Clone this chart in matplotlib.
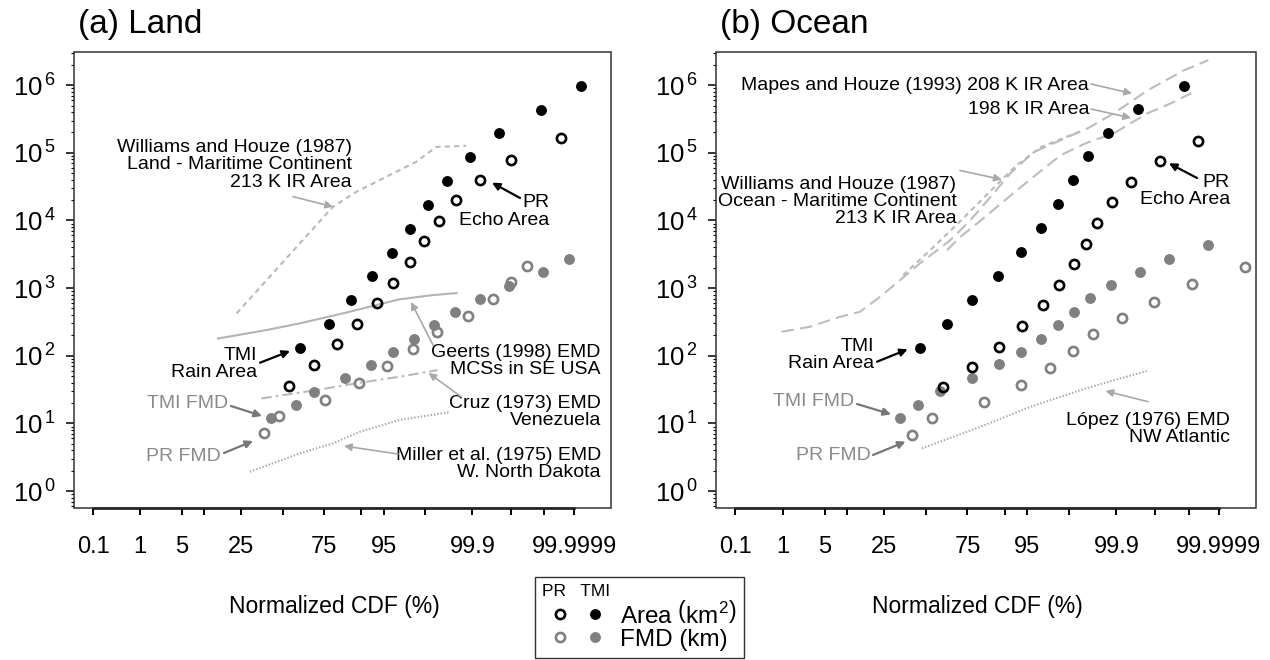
import numpy as np
import matplotlib
matplotlib.use("Agg")
import matplotlib.pyplot as plt
from matplotlib.patches import Rectangle
from matplotlib.ticker import FixedLocator, FixedFormatter, LogLocator, NullFormatter, NullLocator
from matplotlib.legend_handler import HandlerTuple
from statistics import NormalDist

plt.rcParams['font.family'] = ['Liberation Sans', 'DejaVu Sans']
plt.rcParams['mathtext.fontset'] = 'custom'
plt.rcParams['mathtext.rm'] = 'Liberation Sans'
plt.rcParams['mathtext.it'] = 'Liberation Sans:italic'
plt.rcParams['mathtext.bf'] = 'Liberation Sans:bold'

# ---- land: TRMM points (CDF in %, value in km2 or km)
land_tmi_area_cdf = [60.9, 77.3, 86.8, 92.8, 96.27, 98.1, 99.09, 99.63, 99.886, 99.979, 99.9987, 99.99994]
land_tmi_area = [131, 297, 665, 1500, 3300, 7600, 1.7e4, 3.85e4, 8.6e4, 1.93e5, 4.3e5, 9.8e5]
land_pr_area_cdf = [54.1, 69.2, 81.0, 88.7, 93.7, 96.43, 98.1, 98.95, 99.455, 99.767, 99.935, 99.990, 99.99972]
land_pr_area = [35.6, 72.8, 147, 294, 600, 1210, 2420, 4900, 9800, 1.98e4, 3.94e4, 7.9e4, 1.63e5]
land_tmi_fmd_cdf = [42.2, 58.5, 69.7, 84.6, 92.46, 96.43, 98.36, 99.32, 99.753, 99.933, 99.989, 99.99888, 99.99985]
land_tmi_fmd = [11.9, 18.7, 29.3, 46.3, 72, 114, 180, 284, 437, 687, 1081, 1706, 2680]
land_pr_fmd_cdf = [37.7, 47.5, 75.4, 89.2, 95.57, 98.28, 99.39, 99.870, 99.970, 99.990, 99.9966]
land_pr_fmd = [7.2, 12.7, 22.3, 39.8, 70.3, 124, 221, 390, 687, 1239, 2135]

# ---- land: earlier studies
williams_land_cdf = [22.6, 79.3, 88.5, 94.26, 98.51, 99.38, 99.859]
williams_land = [423, 1.59e4, 2.65e4, 3.94e4, 7.35e4, 1.22e5, 1.27e5]
geerts_cdf = [14.6, 39.5, 60.9, 83.6, 93.6, 97.1, 99.27, 99.77]
geerts = [180, 240, 301, 423, 561, 681, 788, 844]
cruz_cdf = [36.4, 70.8, 89.5, 97.1, 99.42]
cruz = [23.4, 31.1, 39.9, 48.9, 61.4]
miller_cdf = [29.6, 60.9, 79.3, 89.5, 97.1, 99.67]
miller = [1.93, 3.6, 5.07, 7.5, 11.2, 14.7]

# ---- ocean: TRMM points
ocean_tmi_area_cdf = [46.1, 63.1, 77.5, 87.8, 93.88, 96.88, 98.37, 99.14, 99.58, 99.84, 99.971, 99.9986]
ocean_tmi_area = [131, 297, 671, 1500, 3370, 7620, 1.73e4, 3.9e4, 8.83e4, 1.95e5, 4.42e5, 9.76e5]
ocean_pr_area_cdf = [61.1, 77.5, 88.2, 94.1, 97.1, 98.48, 99.17, 99.52, 99.73, 99.871, 99.956, 99.9926, 99.99951]
ocean_pr_area = [34.1, 68.7, 137, 277, 560, 1110, 2260, 4500, 9200, 1.87e4, 3.72e4, 7.5e4, 1.52e5]
ocean_tmi_fmd_cdf = [33.9, 44.6, 59.3, 77.5, 88.1, 93.88, 96.88, 98.39, 99.17, 99.61, 99.868, 99.975, 99.996, 99.99976]
ocean_tmi_fmd = [11.9, 18.7, 30, 46.3, 74.5, 114, 180, 284, 446, 704, 1096, 1723, 2710, 4275]
ocean_pr_fmd_cdf = [40.9, 54.1, 82.8, 93.88, 97.78, 99.14, 99.67, 99.926, 99.989, 99.99923, 99.9999886]
ocean_pr_fmd = [6.65, 11.9, 20.9, 36.8, 65, 117, 207, 364, 627, 1133, 2023]

# ---- ocean: earlier studies
mapes208_cdf = [0.96, 2.97, 8.13, 14.2, 22.8, 33.8, 46.3, 65.4, 76.5, 85.2, 91.5, 95.97, 98.56, 99.57, 99.886, 99.984, 99.9986, 99.99977]
mapes208 = [226, 268, 376, 446, 743, 1312, 2340, 5120, 1.01e4, 2.21e4, 5.0e4, 1.02e5, 1.54e5, 2.31e5, 3.85e5, 8.4e5, 1.66e6, 2.34e6]
mapes198_cdf = [63.4, 71.2, 79.7, 87.6, 92.2, 96.25, 98.56, 99.53, 99.886, 99.984, 99.9965, 99.99916]
mapes198 = [3640, 5730, 9040, 1.59e4, 2.53e4, 4.68e4, 9.2e4, 1.39e5, 1.95e5, 3.85e5, 5.4e5, 7.6e5]
williams_ocean_cdf = [35.6, 52.8, 68.3, 78.9, 87.0, 92.7, 96.86, 99.40]
williams_ocean = [1556, 3640, 8240, 1.63e4, 3.21e4, 6.35e4, 1.21e5, 2.09e5]
lopez_cdf = [47.4, 81.2, 95.5, 99.40, 99.887, 99.983]
lopez = [4.28, 8.92, 17.6, 31.1, 43.7, 59.3]

cdf_ticks = [0.1, 1, 5, 10, 25, 50, 75, 90, 95, 99, 99.9, 99.99, 99.999, 99.9999]
cdf_labels = ['0.1', '1', '5', '', '25', '', '75', '', '95', '', '99.9', '', '', '99.9999']

_nd = NormalDist()
_ppf = np.vectorize(_nd.inv_cdf, otypes=[float])
_cdf = np.vectorize(_nd.cdf, otypes=[float])


def probit(p):
    p = np.clip(np.asarray(p, dtype=float) / 100.0, 1e-12, 1 - 1e-12)
    return _ppf(p)


def inv_probit(z):
    return _cdf(np.asarray(z, dtype=float)) * 100.0


BLACK = 'black'
GRAY = '#808080'
LIT = '#b9b9b9'
ARROW_LIT = '#a8a8a8'
FS_NOTE = 14


def setup_axes(ax, title, xlab_center):
    ax.set_yscale('log')
    ax.set_xscale('function', functions=(probit, inv_probit))
    ax.set_xlim(float(inv_probit(-3.41)), float(inv_probit(5.35)))
    ax.set_ylim(10 ** -0.25, 10 ** 6.49)
    ax.xaxis.set_major_locator(FixedLocator(cdf_ticks))
    ax.xaxis.set_major_formatter(FixedFormatter(cdf_labels))
    ax.xaxis.set_minor_locator(NullLocator())
    ax.yaxis.set_major_locator(FixedLocator([10.0 ** k for k in range(7)]))
    ax.yaxis.set_major_formatter(FixedFormatter([r'$10^{\,%d}$' % k for k in range(7)]))
    ax.yaxis.set_minor_locator(LogLocator(base=10, subs=np.arange(2, 10)))
    ax.yaxis.set_minor_formatter(NullFormatter())
    ax.tick_params(axis='x', direction='out', length=5, width=1.4, pad=15, labelsize=17)
    ax.tick_params(axis='y', which='major', direction='out', length=6, width=1.1, pad=7, labelsize=18.5)
    ax.tick_params(axis='y', which='minor', direction='out', length=2.5, width=0.8)
    for s in ['top', 'right', 'left']:
        ax.spines[s].set_visible(False)
    ax.spines['bottom'].set_bounds(cdf_ticks[0], cdf_ticks[-1])
    ax.spines['bottom'].set_linewidth(1.8)
    ax.add_patch(Rectangle((0, 0), 1, 1, transform=ax.transAxes, fill=False,
                           lw=1.1, ec='#333333', clip_on=False, zorder=5))
    ax.set_xlabel('Normalized CDF (%)', fontsize=16.5)
    ax.xaxis.set_label_coords(xlab_center, -0.19)
    ax.text(0.008, 1.06, title, transform=ax.transAxes, fontsize=24, ha='left', va='center')


def plot_points(ax, tmi_a_x, tmi_a, pr_a_x, pr_a, tmi_f_x, tmi_f, pr_f_x, pr_f):
    h1, = ax.plot(tmi_f_x, tmi_f, 'o', ms=6.8, color=GRAY, mec=GRAY, ls='none', zorder=3)
    h2, = ax.plot(pr_f_x, pr_f, 'o', ms=6.6, mfc='none', mec=GRAY, mew=1.9, ls='none', zorder=4)
    h3, = ax.plot(tmi_a_x, tmi_a, 'o', ms=6.8, color=BLACK, ls='none', zorder=3)
    h4, = ax.plot(pr_a_x, pr_a, 'o', ms=6.6, mfc='none', mec=BLACK, mew=1.9, ls='none', zorder=4)
    return h4, h3, h2, h1


def note(ax, text, xy, color='black', fs=FS_NOTE, ls=1.02):
    ax.text(xy[0], xy[1], text, transform=ax.transAxes, ha='right', va='center',
            multialignment='right', fontsize=fs, color=color, linespacing=ls)


def arrow(ax, tail, head, color, lw=1.2, ms=11):
    ax.annotate('', xy=head, xytext=tail, xycoords='axes fraction', textcoords='axes fraction',
                arrowprops=dict(arrowstyle='-|>', color=color, lw=lw, mutation_scale=ms,
                                shrinkA=0, shrinkB=0))


fig = plt.figure(figsize=(12.7, 6.6), dpi=100)
ax1 = fig.add_axes([73.5 / 1270, 1 - 508 / 660, 537.5 / 1270, 456 / 660])
ax2 = fig.add_axes([715.7 / 1270, 1 - 508 / 660, 540 / 1270, 456 / 660])

# ---------------- (a) Land
setup_axes(ax1, '(a) Land', 0.4847)
ax1.plot(williams_land_cdf, williams_land, color=LIT, lw=1.5, ls=(0, (2.5, 2.0)), zorder=2)
ax1.plot(geerts_cdf, geerts, color='#b3b3b3', lw=1.5, ls='-', zorder=2)
ax1.plot(cruz_cdf, cruz, color=LIT, lw=1.5, ls=(0, (5, 2, 1.2, 2)), zorder=2)
ax1.plot(miller_cdf, miller, color='#a9a9a9', lw=1.5, ls=(0, (0.7, 0.9)), zorder=2)
handles = plot_points(ax1, land_tmi_area_cdf, land_tmi_area, land_pr_area_cdf, land_pr_area,
                      land_tmi_fmd_cdf, land_tmi_fmd, land_pr_fmd_cdf, land_pr_fmd)

note(ax1, 'Williams and Houze (1987)\nLand - Maritime Continent\n213 K IR Area', (0.5176, 0.7522))
arrow(ax1, (0.4084, 0.6827), (0.4828, 0.6607), ARROW_LIT)
note(ax1, 'PR\nEcho Area', (0.8847, 0.6502))
arrow(ax1, (0.8307, 0.6798), (0.7786, 0.7134), 'black', lw=1.6)
note(ax1, 'TMI\nRain Area', (0.3408, 0.3162))
arrow(ax1, (0.347, 0.3186), (0.4028, 0.3443), 'black', lw=1.6)
note(ax1, 'TMI FMD', (0.2884, 0.2281), color='#8a8a8a')
arrow(ax1, (0.293, 0.2237), (0.3507, 0.2018), '#777777', lw=1.6)
note(ax1, 'PR FMD', (0.2744, 0.114), color='#8a8a8a')
arrow(ax1, (0.28, 0.1206), (0.334, 0.1469), '#777777', lw=1.6)
note(ax1, 'Geerts (1998) EMD\nMCSs in SE USA', (0.981, 0.3217))
arrow(ax1, (0.6688, 0.3575), (0.6279, 0.4518), ARROW_LIT)
note(ax1, 'Cruz (1973) EMD\nVenezuela', (0.981, 0.2101))
arrow(ax1, (0.7209, 0.2441), (0.6606, 0.2961), ARROW_LIT)
note(ax1, 'Miller et al. (1975) EMD\nW. North Dakota', (0.981, 0.0958))
arrow(ax1, (0.6037, 0.1184), (0.5033, 0.136), ARROW_LIT)

# ---------------- (b) Ocean
setup_axes(ax2, '(b) Ocean', 0.4839)
ax2.plot(mapes208_cdf, mapes208, color='#bdbdbd', lw=1.5, ls=(0, (6, 3)), zorder=2)
ax2.plot(mapes198_cdf, mapes198, color='#bdbdbd', lw=1.5, ls=(0, (6, 3)), zorder=2)
ax2.plot(williams_ocean_cdf, williams_ocean, color=LIT, lw=1.5, ls=(0, (2.5, 2.0)), zorder=2)
ax2.plot(lopez_cdf, lopez, color='#a9a9a9', lw=1.5, ls=(0, (0.7, 0.9)), zorder=2)
plot_points(ax2, ocean_tmi_area_cdf, ocean_tmi_area, ocean_pr_area_cdf, ocean_pr_area,
            ocean_tmi_fmd_cdf, ocean_tmi_fmd, ocean_pr_fmd_cdf, ocean_pr_fmd)

note(ax2, 'Mapes and Houze (1993) 208 K IR Area', (0.6913, 0.9276))
arrow(ax2, (0.695, 0.9298), (0.7709, 0.909), ARROW_LIT)
note(ax2, '198 K IR Area', (0.6913, 0.8739))
arrow(ax2, (0.695, 0.875), (0.7691, 0.8553), ARROW_LIT)
note(ax2, 'Williams and Houze (1987)\nOcean - Maritime Continent\n213 K IR Area', (0.4459, 0.6717))
arrow(ax2, (0.4524, 0.7401), (0.5296, 0.7204), ARROW_LIT)
note(ax2, 'PR\nEcho Area', (0.9524, 0.6947))
arrow(ax2, (0.8913, 0.7237), (0.8394, 0.7559), 'black', lw=1.6)
note(ax2, 'TMI\nRain Area', (0.2926, 0.3355))
arrow(ax2, (0.2987, 0.3208), (0.3554, 0.348), 'black', lw=1.6)
note(ax2, 'TMI FMD', (0.257, 0.2331), color='#8a8a8a')
arrow(ax2, (0.2617, 0.2281), (0.3246, 0.2055), '#777777', lw=1.6)
note(ax2, 'PR FMD', (0.2872, 0.1162), color='#8a8a8a')
arrow(ax2, (0.2913, 0.1162), (0.3515, 0.1454), '#777777', lw=1.6)
note(ax2, 'López (1976) EMD\nNW Atlantic', (0.9524, 0.1728))
arrow(ax2, (0.8006, 0.2331), (0.7219, 0.2566), ARROW_LIT)

# ---------------- shared legend
h_pr_area, h_tmi_area, h_pr_fmd, h_tmi_fmd = handles
leg = fig.legend([(h_pr_area, h_tmi_area), (h_pr_fmd, h_tmi_fmd)],
                 [r'Area $\left(\mathrm{km}^{2}\right)$', 'FMD (km)'],
                 handler_map={tuple: HandlerTuple(ndivide=None, pad=0.0)},
                 title='PR   TMI', title_fontsize=12.5, alignment='left',
                 loc='upper left', bbox_to_anchor=(535 / 1270, 1 - 577 / 660),
                 fontsize=17.5, frameon=True, fancybox=False, edgecolor='black',
                 handlelength=2.9, handletextpad=0.3, borderpad=0.3,
                 labelspacing=0.05, borderaxespad=0, numpoints=1)
leg.get_frame().set_linewidth(1.0)

fig.savefig('out.png', dpi=100)
